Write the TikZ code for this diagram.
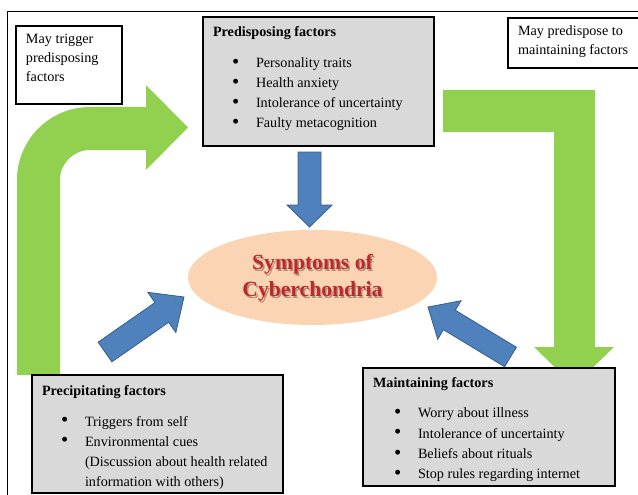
\documentclass[tikz,border=0pt]{standalone}
\usepackage{fontspec}
\setmainfont{Liberation Serif}
\usetikzlibrary{calc,shapes.geometric,shadows}

\definecolor{leaf}{HTML}{92D050}
\definecolor{steel}{HTML}{4F81BD}
\definecolor{steeledge}{HTML}{385D8A}
\definecolor{boxgray}{HTML}{D9D9D9}
\definecolor{peach}{HTML}{FBD4B4}
\definecolor{crimson}{HTML}{C0272D}

% block arrow: tail, tip, shaft half width, head half width, head length
\newcommand{\blockarrow}[5]{%
  \coordinate (ba-base) at ($(#2)!#5!(#1)$);
  \filldraw[steelarrow]
    ($(#1)!#3!90:(#2)$) -- ($(ba-base)!#3!90:(#2)$) -- ($(ba-base)!#4!90:(#2)$)
    -- (#2)
    -- ($(ba-base)!#4!-90:(#2)$) -- ($(ba-base)!#3!-90:(#2)$) -- ($(#1)!#3!-90:(#2)$)
    -- cycle;
}
\newcommand{\bitem}[1]{\hspace*{19pt}\makebox[24pt][l]{\raisebox{-0.6pt}{\scalebox{1.45}{\textbullet}}}#1}

\tikzset{
  every node/.style={inner sep=0pt, outer sep=0pt},
  factorbox/.style={draw=black, line width=1.2pt, fill=boxgray, anchor=north west,
    drop shadow={shadow xshift=1.2pt, shadow yshift=-1.2pt, fill=gray!70}},
  notebox/.style={draw=black, line width=1.1pt, fill=white, anchor=north west,
    drop shadow={shadow xshift=1pt, shadow yshift=-1pt, fill=gray!60}},
  bodytext/.style={anchor=base west, font=\fontsize{14.2}{20}\selectfont},
  notetext/.style={anchor=base west, font=\fontsize{14.2}{18.7}\selectfont},
  steelarrow/.style={fill=steel, draw=steeledge, line width=0.8pt, line join=miter},
  titletext/.style={align=center, font=\fontsize{21.6}{27}\selectfont\bfseries},
}

\begin{document}
\begin{tikzpicture}[x=1pt, y=-1pt]
  \useasboundingbox (0,0) rectangle (638,495);

  % page frame
  \coordinate (frame-bl) at (7,495);
  \coordinate (frame-tl) at (7,11);
  \coordinate (frame-tr) at (638,11);
  \draw[line width=0.9pt] (frame-bl) -- (frame-tl) -- (frame-tr);

  % green bent arrows
  \fill[leaf] (17,375) -- (17,180) arc (180:270:73) -- (146,107) -- (146,85)
    -- (188,127.5) -- (146,170) -- (146,150) -- (90,150) arc (270:180:30)
    -- (60,375) -- cycle;
  \fill[leaf] (443,90) -- (595,90) -- (595,347) -- (614,347) -- (574,386)
    -- (534,347) -- (554,347) -- (554,132) -- (443,132) -- cycle;

  % note boxes
  \node[notebox, minimum width=106pt, minimum height=78pt] (trig) at (16,26) {};
  \node[notetext] (trig-text) at (26,44)
    {\parbox[t]{95pt}{May trigger\\predisposing\\factors}};
  \node[notebox, minimum width=132pt, minimum height=50pt] (maypre) at (508,18) {};
  \node[notetext] (maypre-text) at (518,36)
    {\parbox[t]{125pt}{May predispose to\\maintaining factors}};

  % factor boxes
  \node[factorbox, minimum width=231pt, minimum height=129pt] (pre) at (203,17) {};
  \node[bodytext] (pre-text) at (213,37) {\parbox[t]{220pt}{%
    \textbf{Predisposing factors}\\[11pt]
    \bitem{Personality traits}\\
    \bitem{Health anxiety}\\
    \bitem{Intolerance of uncertainty}\\
    \bitem{Faulty metacognition}}};

  \node[factorbox, minimum width=251pt, minimum height=118pt] (prec) at (32,375) {};
  \node[bodytext] (prec-text) at (42,395) {\parbox[t]{240pt}{%
    \textbf{Precipitating factors}\\[11pt]
    \bitem{Triggers from self}\\
    \bitem{Environmental cues}\\
    \hspace*{43pt}(Discussion about health related\\
    \hspace*{43pt}information with others)}};

  \node[factorbox, minimum width=252pt, minimum height=118pt] (maint) at (363,368) {};
  \node[bodytext, font=\fontsize{14.2}{20.3}\selectfont] (maint-text) at (373,387) {\parbox[t]{240pt}{%
    \textbf{Maintaining factors}\\[10.5pt]
    \hspace*{2pt}\bitem{Worry about illness}\\
    \hspace*{2pt}\bitem{Intolerance of uncertainty}\\
    \hspace*{2pt}\bitem{Beliefs about rituals}\\
    \hspace*{2pt}\bitem{Stop rules regarding internet}}};

  % central symptoms ellipse
  \node[ellipse, fill=peach, minimum width=249pt, minimum height=95pt] (sym) at (312.5,277.5) {};
  \node[titletext, text=black, opacity=0.3] (sym-shadow) at (314,279.5)
    {Symptoms of\\Cyberchondria};
  \node[titletext, text=crimson] (sym-text) at (312.5,278)
    {Symptoms of\\Cyberchondria};

  % blue arrows into the symptoms
  \coordinate (a1-tail) at (309.5,152);
  \coordinate (a1-tip) at (309.5,227);
  \blockarrow{a1-tail}{a1-tip}{11.5pt}{22.5pt}{22pt}
  \coordinate (a2-tail) at (105,352);
  \coordinate (a2-tip) at (184,297);
  \blockarrow{a2-tail}{a2-tip}{12pt}{24.5pt}{27pt}
  \coordinate (a3-tail) at (510.5,357);
  \coordinate (a3-tip) at (428,307);
  \blockarrow{a3-tail}{a3-tip}{11.4pt}{22.5pt}{25pt}
\end{tikzpicture}
\end{document}
